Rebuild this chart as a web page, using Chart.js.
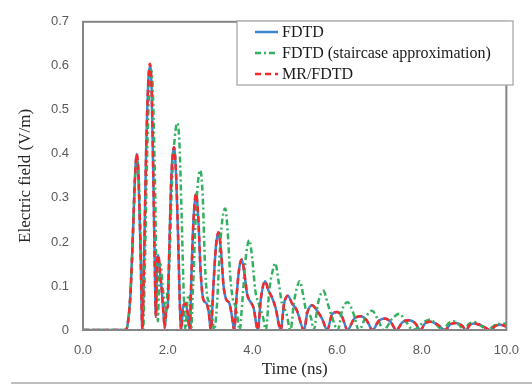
<!DOCTYPE html>
<html><head><meta charset="utf-8">
<script src="https://cdn.jsdelivr.net/npm/chart.js@4.4.1/dist/chart.umd.min.js"></script>
<style>html,body{margin:0;padding:0;background:#fff}#wrap{width:532px;height:385px;position:relative}</style>
</head><body><div id="wrap"><canvas id="c"></canvas></div>
<script>
const seriesNames = ['FDTD', 'FDTD (staircase approximation)', 'MR/FDTD'];
const xTickValues = [0, 2, 4, 6, 8, 10];
const yTickValues = [0, 0.1, 0.2, 0.3, 0.4, 0.5, 0.6, 0.7];
const xTitle = 'Time (ns)';
const yTitle = 'Electric field (V/m)';

// FDTD (time in ns, field in V/m)
const fdtdTime = [
  0, 1.00, 1.05, 1.12, 1.18, 1.23, 1.27, 1.31, 1.36, 1.40,
  1.44, 1.49, 1.54, 1.58, 1.62, 1.66, 1.70, 1.72, 1.75, 1.78,
  1.82, 1.86, 1.90, 1.93, 1.97, 2.00, 2.03, 2.08, 2.15, 2.20,
  2.25, 2.29, 2.32, 2.36, 2.42, 2.47, 2.52, 2.56, 2.61, 2.67,
  2.72, 2.78, 2.84, 2.92, 2.97, 3.02, 3.08, 3.14, 3.20, 3.26,
  3.32, 3.38, 3.46, 3.52, 3.57, 3.63, 3.69, 3.75, 3.81, 3.88,
  3.95, 4.03, 4.13, 4.20, 4.30, 4.38, 4.46, 4.55, 4.67, 4.75,
  4.84, 4.94, 5.05, 5.22, 5.30, 5.41, 5.52, 5.65, 5.77, 5.88,
  6.00, 6.12, 6.25, 6.40, 6.56, 6.70, 6.84, 6.98, 7.13, 7.27,
  7.40, 7.55, 7.71, 7.85, 7.97, 8.08, 8.21, 8.38, 8.55, 8.68,
  8.82, 8.95, 9.05, 9.14, 9.24, 9.42, 9.62, 9.75, 9.85, 10.0];
const fdtdField = [
  0, 0, 0.01, 0.08, 0.22, 0.35, 0.40, 0.35, 0.18, 0.0,
  0.15, 0.40, 0.56, 0.60, 0.55, 0.35, 0.12, 0.03, 0.16, 0.17,
  0.13, 0.09, 0.04, 0.005, 0.05, 0.05, 0.15, 0.33, 0.415, 0.35,
  0.20, 0.05, 0.0, 0.05, 0.06, 0.04, 0.0, 0.12, 0.25, 0.31,
  0.26, 0.13, 0.07, 0.06, 0.04, 0.0, 0.10, 0.19, 0.222, 0.18,
  0.10, 0.07, 0.06, 0.03, 0.0, 0.08, 0.14, 0.16, 0.13, 0.08,
  0.065, 0.05, 0.0, 0.07, 0.111, 0.09, 0.075, 0.05, 0.0, 0.06,
  0.078, 0.06, 0.045, 0.0, 0.04, 0.056, 0.045, 0.025, 0.0, 0.035,
  0.041, 0.03, 0.0, 0.025, 0.031, 0.022, 0.0, 0.02, 0.026, 0.018,
  0.0, 0.018, 0.022, 0.015, 0.0, 0.015, 0.019, 0.012, 0.0, 0.013,
  0.016, 0.01, 0.0, 0.012, 0.015, 0.01, 0.0, 0.01, 0.012, 0.008];

// FDTD (staircase approximation)
const stairTime = [
  0, 1.00, 1.05, 1.12, 1.18, 1.23, 1.28, 1.32, 1.37, 1.42,
  1.46, 1.51, 1.56, 1.61, 1.65, 1.70, 1.74, 1.77, 1.80, 1.83,
  1.88, 1.92, 1.95, 1.99, 2.04, 2.10, 2.17, 2.23, 2.28, 2.33,
  2.38, 2.42, 2.47, 2.52, 2.55, 2.60, 2.66, 2.72, 2.77, 2.83,
  2.88, 2.93, 2.99, 3.05, 3.10, 3.16, 3.22, 3.29, 3.36, 3.42,
  3.48, 3.54, 3.62, 3.70, 3.76, 3.84, 3.93, 4.00, 4.07, 4.15,
  4.25, 4.32, 4.40, 4.47, 4.54, 4.62, 4.70, 4.80, 4.90, 4.98,
  5.05, 5.12, 5.20, 5.28, 5.38, 5.45, 5.55, 5.68, 5.78, 5.88,
  6.02, 6.12, 6.25, 6.38, 6.52, 6.68, 6.83, 6.96, 7.10, 7.30,
  7.47, 7.62, 7.80, 8.05, 8.20, 8.35, 8.50, 8.63, 8.75, 8.88,
  9.00, 9.12, 9.25, 9.40, 9.55, 9.75, 10.0];
const stairField = [
  0, 0, 0.01, 0.08, 0.22, 0.35, 0.39, 0.34, 0.17, 0.0,
  0.14, 0.38, 0.54, 0.59, 0.54, 0.34, 0.10, 0.02, 0.13, 0.15,
  0.10, 0.06, 0.02, 0.08, 0.15, 0.33, 0.44, 0.47, 0.42, 0.26,
  0.08, 0.0, 0.07, 0.08, 0.0, 0.10, 0.25, 0.34, 0.363, 0.30,
  0.15, 0.08, 0.06, 0.03, 0.0, 0.05, 0.16, 0.25, 0.276, 0.22,
  0.12, 0.07, 0.05, 0.0, 0.06, 0.16, 0.204, 0.16, 0.09, 0.06,
  0.03, 0.0, 0.09, 0.13, 0.152, 0.11, 0.06, 0.04, 0.0, 0.06,
  0.095, 0.111, 0.08, 0.04, 0.03, 0.0, 0.06, 0.089, 0.06, 0.03,
  0.0, 0.045, 0.063, 0.04, 0.0, 0.03, 0.044, 0.025, 0.0, 0.025,
  0.037, 0.02, 0.0, 0.018, 0.024, 0.012, 0.0, 0.015, 0.02, 0.012,
  0.0, 0.014, 0.018, 0.01, 0.0, 0.012, 0.015];

// MR/FDTD
const mrTime = fdtdTime.slice();
const mrField = [
  0, 0, 0.01, 0.08, 0.22, 0.35, 0.40, 0.35, 0.18, 0.0,
  0.15, 0.40, 0.56, 0.605, 0.55, 0.35, 0.12, 0.03, 0.16, 0.17,
  0.13, 0.09, 0.04, 0.005, 0.05, 0.05, 0.15, 0.33, 0.415, 0.35,
  0.20, 0.05, 0.0, 0.05, 0.06, 0.04, 0.0, 0.12, 0.25, 0.31,
  0.26, 0.13, 0.07, 0.06, 0.04, 0.0, 0.10, 0.19, 0.222, 0.18,
  0.10, 0.07, 0.06, 0.03, 0.0, 0.08, 0.14, 0.16, 0.13, 0.08,
  0.065, 0.05, 0.0, 0.07, 0.111, 0.09, 0.075, 0.05, 0.0, 0.06,
  0.078, 0.06, 0.045, 0.0, 0.04, 0.056, 0.045, 0.025, 0.0, 0.035,
  0.041, 0.03, 0.0, 0.025, 0.031, 0.022, 0.0, 0.02, 0.026, 0.018,
  0.0, 0.018, 0.022, 0.015, 0.0, 0.015, 0.019, 0.012, 0.0, 0.013,
  0.016, 0.01, 0.0, 0.012, 0.015, 0.01, 0.0, 0.01, 0.012, 0.008];

const toPts = (t, v) => t.map((x, i) => ({x: x, y: v[i]}));

const frame = {
  id: 'frame',
  afterDatasetsDraw(chart) {
    const {ctx, chartArea: a} = chart;
    ctx.save();
    ctx.strokeStyle = '#858585';
    ctx.lineWidth = 2;
    ctx.strokeRect(a.left, a.top, a.right - a.left, a.bottom - a.top);
    // bottom separator line
    ctx.strokeStyle = '#a8a8a8';
    ctx.lineWidth = 1.5;
    ctx.beginPath(); ctx.moveTo(11, 383); ctx.lineTo(532, 383); ctx.stroke();
    // legend
    const bx = 237, by = 21, bw = 276, bh = 64;
    ctx.fillStyle = '#fff';
    ctx.fillRect(bx, by, bw, bh);
    ctx.strokeStyle = '#a0a0a0';
    ctx.lineWidth = 1.2;
    ctx.strokeRect(bx, by, bw, bh);
    ctx.font = '16px "Liberation Serif", "Times New Roman", serif';
    ctx.textBaseline = 'middle';
    ctx.textAlign = 'left';
    chart.data.datasets.forEach((ds, i) => {
      const y = 32 + i * 21;
      ctx.strokeStyle = ds.borderColor;
      ctx.lineWidth = ds.borderWidth;
      ctx.setLineDash(ds.borderDash || []);
      ctx.beginPath(); ctx.moveTo(255, y); ctx.lineTo(278, y); ctx.stroke();
      ctx.setLineDash([]);
      ctx.fillStyle = '#1a1a1a';
      ctx.fillText(ds.label, 282, y + 1);
    });
    ctx.restore();
  }
};

new Chart(document.getElementById('c'), {
  type: 'line',
  data: {
    datasets: [
      {label: seriesNames[0], data: toPts(fdtdTime, fdtdField), borderColor: '#3d85d1', borderWidth: 2.5, order: 2},
      {label: seriesNames[1], data: toPts(stairTime, stairField), borderColor: '#33b060', borderWidth: 2.5, borderDash: [6, 3, 2, 3], order: 1},
      {label: seriesNames[2], data: toPts(mrTime, mrField), borderColor: '#f52a2a', borderWidth: 2.5, borderDash: [6, 4], order: 0}
    ]
  },
  options: {
    responsive: true,
    maintainAspectRatio: false,
    animation: false,
    devicePixelRatio: 1,
    layout: {padding: {left: 0, top: 14, right: 14, bottom: 0}},
    elements: {point: {radius: 0}, line: {cubicInterpolationMode: 'monotone', fill: false}},
    plugins: {legend: {display: false}, tooltip: {enabled: false}},
    scales: {
      x: {
        type: 'linear', min: 0, max: 10,
        afterBuildTicks: s => { s.ticks = xTickValues.map(v => ({value: v})); },
        afterFit: s => { s.height = 55; },
        grid: {display: false, drawTicks: false},
        border: {display: false},
        ticks: {padding: 13, color: '#595959', font: {family: '"Liberation Sans", Arial, sans-serif', size: 13}, callback: v => Number(v).toFixed(1), maxRotation: 0},
        title: {display: true, text: xTitle, color: '#262626', font: {family: '"Liberation Serif", "Times New Roman", serif', size: 17}, padding: {top: 0, bottom: 5}}
      },
      y: {
        type: 'linear', min: 0, max: 0.7,
        afterBuildTicks: s => { s.ticks = yTickValues.map(v => ({value: v})); },
        afterFit: s => { s.width = 83; },
        grid: {display: false, drawTicks: false},
        border: {display: false},
        ticks: {padding: 14, color: '#595959', font: {family: '"Liberation Sans", Arial, sans-serif', size: 13}, callback: v => v === 0 ? '0' : Number(v).toFixed(1)},
        title: {display: true, text: yTitle, color: '#262626', font: {family: '"Liberation Serif", "Times New Roman", serif', size: 17}, padding: {top: 15, bottom: 0}}
      }
    }
  },
  plugins: [frame]
});
</script></body></html>
